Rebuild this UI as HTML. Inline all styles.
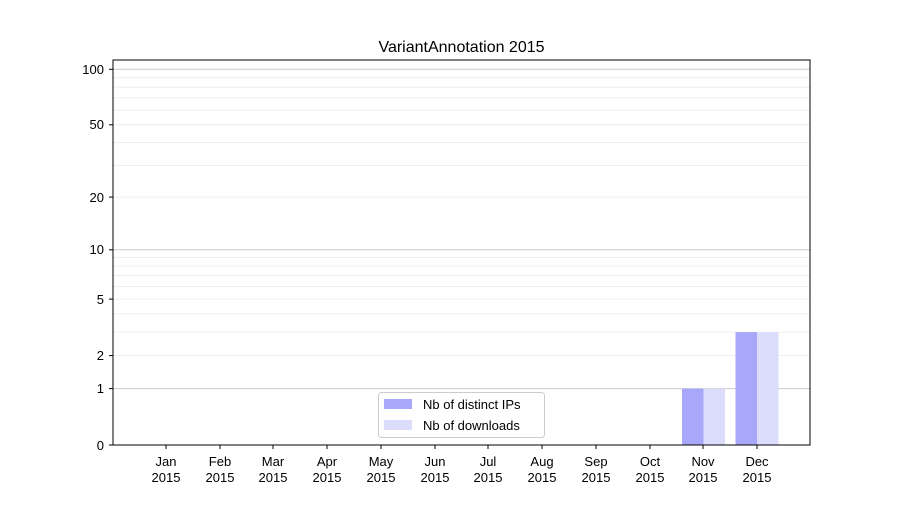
<!DOCTYPE html>
<html><head><meta charset="utf-8"><style>body{margin:0;background:#fff}</style></head><body>
<svg width="900" height="500" xmlns="http://www.w3.org/2000/svg" font-family="Liberation Sans, DejaVu Sans, sans-serif">
<rect width="900" height="500" fill="#fff"/>
<g stroke="#ebebeb" stroke-width="0.8">
<line x1="113" x2="810" y1="355.6" y2="355.6"/><line x1="113" x2="810" y1="332.1" y2="332.1"/>
<line x1="113" x2="810" y1="313.9" y2="313.9"/><line x1="113" x2="810" y1="299.1" y2="299.1"/>
<line x1="113" x2="810" y1="286.5" y2="286.5"/><line x1="113" x2="810" y1="275.7" y2="275.7"/>
<line x1="113" x2="810" y1="266.1" y2="266.1"/><line x1="113" x2="810" y1="257.5" y2="257.5"/>
<line x1="113" x2="810" y1="197.1" y2="197.1"/><line x1="113" x2="810" y1="165.4" y2="165.4"/>
<line x1="113" x2="810" y1="142.6" y2="142.6"/><line x1="113" x2="810" y1="124.8" y2="124.8"/>
<line x1="113" x2="810" y1="110.2" y2="110.2"/><line x1="113" x2="810" y1="97.9" y2="97.9"/>
<line x1="113" x2="810" y1="87.2" y2="87.2"/><line x1="113" x2="810" y1="77.7" y2="77.7"/>
</g>
<g stroke="#cccccc" stroke-width="1">
<line x1="113" x2="810" y1="388.6" y2="388.6"/><line x1="113" x2="810" y1="249.8" y2="249.8"/><line x1="113" x2="810" y1="69.3" y2="69.3"/>
</g>
<rect x="682" y="388.6" width="21.5" height="56.4" fill="#a8a8fa"/>
<rect x="703.5" y="388.6" width="21.5" height="56.4" fill="#dcdcfc"/>
<rect x="735.5" y="332.1" width="21.5" height="112.9" fill="#a8a8fa"/>
<rect x="757" y="332.1" width="21.5" height="112.9" fill="#dcdcfc"/>
<rect x="113" y="60" width="697" height="385" fill="none" stroke="#000" stroke-width="1"/>
<g stroke="#000"><line x1="109" x2="113" y1="445" y2="445"/><line x1="109" x2="113" y1="388.6" y2="388.6"/><line x1="109" x2="113" y1="355.6" y2="355.6"/><line x1="109" x2="113" y1="299.1" y2="299.1"/><line x1="109" x2="113" y1="249.8" y2="249.8"/><line x1="109" x2="113" y1="197.1" y2="197.1"/><line x1="109" x2="113" y1="124.8" y2="124.8"/><line x1="109" x2="113" y1="69.3" y2="69.3"/></g>
<g font-size="13" text-anchor="end" fill="#000">
<text x="104" y="450">0</text><text x="104" y="393">1</text><text x="104" y="360">2</text><text x="104" y="304">5</text><text x="104" y="254">10</text><text x="104" y="202">20</text><text x="104" y="129">50</text><text x="104" y="74">100</text>
</g>
<text x="461.5" y="52" font-size="16" text-anchor="middle" fill="#000">VariantAnnotation 2015</text>
<g font-size="13" text-anchor="middle" fill="#000">
<g stroke="#000"><line x1="166" x2="166" y1="445" y2="449"/><line x1="220" x2="220" y1="445" y2="449"/><line x1="273" x2="273" y1="445" y2="449"/><line x1="327" x2="327" y1="445" y2="449"/><line x1="381" x2="381" y1="445" y2="449"/><line x1="435" x2="435" y1="445" y2="449"/><line x1="488" x2="488" y1="445" y2="449"/><line x1="542" x2="542" y1="445" y2="449"/><line x1="596" x2="596" y1="445" y2="449"/><line x1="650" x2="650" y1="445" y2="449"/><line x1="703" x2="703" y1="445" y2="449"/><line x1="757" x2="757" y1="445" y2="449"/></g>
<text x="166" y="466">Jan</text><text x="166" y="482">2015</text>
<text x="220" y="466">Feb</text><text x="220" y="482">2015</text>
<text x="273" y="466">Mar</text><text x="273" y="482">2015</text>
<text x="327" y="466">Apr</text><text x="327" y="482">2015</text>
<text x="381" y="466">May</text><text x="381" y="482">2015</text>
<text x="435" y="466">Jun</text><text x="435" y="482">2015</text>
<text x="488" y="466">Jul</text><text x="488" y="482">2015</text>
<text x="542" y="466">Aug</text><text x="542" y="482">2015</text>
<text x="596" y="466">Sep</text><text x="596" y="482">2015</text>
<text x="650" y="466">Oct</text><text x="650" y="482">2015</text>
<text x="703" y="466">Nov</text><text x="703" y="482">2015</text>
<text x="757" y="466">Dec</text><text x="757" y="482">2015</text>
</g>
<rect x="378.5" y="392.5" width="166" height="45" rx="3" fill="#fff" fill-opacity="0.8" stroke="#ccc"/>
<rect x="384" y="399" width="28" height="10" fill="#a8a8fa"/>
<rect x="384" y="420" width="28" height="10" fill="#dcdcfc"/>
<text x="423" y="409" font-size="13">Nb of distinct IPs</text>
<text x="423" y="430" font-size="13">Nb of downloads</text>
</svg>
</body></html>
